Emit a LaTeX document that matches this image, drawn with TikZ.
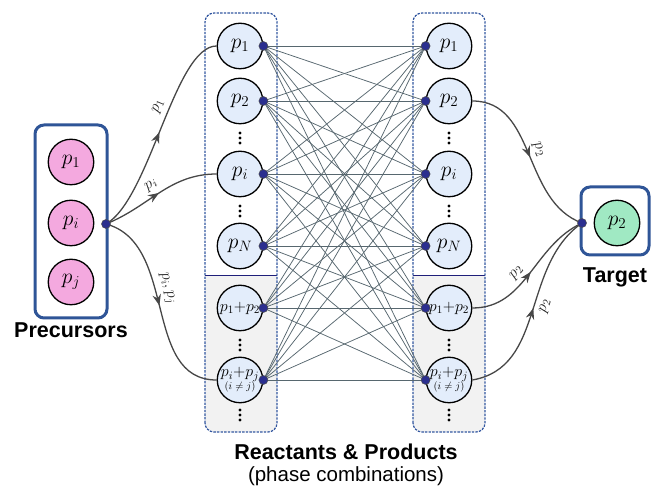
\RequirePackage{fix-cm}
\documentclass[tikz,border=0pt]{standalone}
\usepackage{fontspec}
\setsansfont{Liberation Sans}
\usetikzlibrary{arrows.meta,decorations.markings}

\definecolor{boxblue}{HTML}{2F5597}
\definecolor{dashblue}{HTML}{3357A0}
\definecolor{sepnavy}{HTML}{1F1F7A}
\definecolor{dotblue}{HTML}{2B2F8F}
\definecolor{phasefill}{HTML}{E3EDFB}
\definecolor{pinkfill}{HTML}{F4A9DF}
\definecolor{greenfill}{HTML}{A0E9C3}
\definecolor{lowerfill}{HTML}{F2F2F2}
\definecolor{meshcol}{HTML}{57676F}
\definecolor{flowcol}{HTML}{474747}

\tikzset{
  ball/.style={circle, draw=black, line width=1.3pt, minimum size=45.5pt, inner sep=0pt,
    font=\fontsize{21.5}{23}\selectfont},
  phase/.style={ball, fill=phasefill},
  combo/.style={ball, fill=phasefill, font=\fontsize{16}{17}\selectfont, align=center},
  precursor/.style={ball, fill=pinkfill},
  goal/.style={ball, fill=greenfill},
  port/.style={circle, fill=dotblue, draw=black!70, line width=0.5pt, minimum size=9pt, inner sep=0pt},
  mesh/.style={draw=meshcol, line width=0.75pt},
  flow/.style={draw=flowcol, line width=1.3pt,
    decoration={markings, mark=at position 0.5 with {\arrow[flowcol]{Stealth[length=11pt,width=8.5pt]}}},
    postaction={decorate}},
  elabel/.style={font=\fontsize{16}{17}\selectfont, text=black!85, inner sep=5pt},
  groupframe/.style={draw=boxblue, line width=3pt, rounded corners=9pt},
  colframe/.style={draw=dashblue, line width=1.2pt, dash pattern=on 2.4pt off 1.2pt, rounded corners=9pt},
  caption/.style={font=\sffamily\bfseries\fontsize{21.5}{24}\selectfont},
}

\newcommand{\stackdots}[2]{%
  \fill[black] (#1,#2+5) circle (1.7pt) (#1,#2) circle (1.7pt) (#1,#2-5) circle (1.7pt);}

\begin{document}
\begin{tikzpicture}[x=1pt,y=1pt]
\useasboundingbox (0,0) rectangle (652,489);

% phase columns: light grey lower half for combinations
\foreach \cx in {241,449} {
  \begin{scope}
    \clip[rounded corners=9pt] (\cx-36,57) rectangle (\cx+36,476);
    \fill[lowerfill] (\cx-36,57) rectangle (\cx+36,213);
  \end{scope}
  \draw[sepnavy, line width=1pt] (\cx-36,213) -- (\cx+36,213);
  \draw[colframe] (\cx-36,57) rectangle (\cx+36,476);
}

% reactant column (left) and product column (right)
\foreach \side/\cx in {L/240,R/449} {
  \node[phase] (\side1) at (\cx,443) {$p_1$};
  \node[phase] (\side2) at (\cx,388) {$p_2$};
  \node[phase] (\side i) at (\cx,315) {$p_i$};
  \node[phase] (\side N) at (\cx,243) {$p_N$};
  \node[combo] (\side12) at (\cx,181) {$p_1{+}p_2$};
  \node[combo] (\side ij) at (\cx,109) {$p_i{+}p_j$\\[-4pt]{\fontsize{10.5}{11}\selectfont$(i\neq j)$}};
  \stackdots{\cx}{351}
  \stackdots{\cx}{278}
  \stackdots{\cx}{144}
  \stackdots{\cx}{74}
}

% every reactant can turn into every product
\foreach \a in {1,2,i,N,12,ij} {
  \foreach \b in {1,2,i,N,12,ij} {
    \draw[mesh] (L\a.east) -- (R\b.west);
  }
}
\foreach \a in {1,2,i,N,12,ij} {
  \node[port] (oL\a) at (L\a.east) {};
  \node[port] (iR\a) at (R\a.west) {};
}

% precursors
\draw[groupframe] (35,171) rectangle (107,364);
\node[precursor] (P1) at (71,327) {$p_1$};
\node[precursor] (Pi) at (71,266) {$p_i$};
\node[precursor] (Pj) at (71,207) {$p_j$};
\node[caption] (prec) at (71,159) {Precursors};
\coordinate (src) at (106,265);

% target
\draw[groupframe] (581,234) rectangle (649,302);
\node[goal] (T2) at (617,266) {$p_2$};
\node[caption] (tgt) at (615,212) {Target};
\coordinate (snk) at (582,266);

% flows from precursors
\draw[flow] (src) .. controls +(44,25) and +(-42,0) .. node[elabel, sloped, above, pos=0.56] {$p_1$} (L1.west);
\draw[flow] (src) to[out=22,in=180] node[elabel, sloped, above, pos=0.47] {$p_i$} (Li.west);
\draw[flow] (src) to[out=-15,in=180] node[elabel, sloped, above, pos=0.42] {$p_i,p_j$} (Lij.west);

% flows into the target
\draw[flow] (R2.east) to[out=0,in=160] node[elabel, sloped, above, pos=0.5] {$p_2$} (snk);
\draw[flow] (R12.east) to[out=0,in=205] node[elabel, sloped, above, pos=0.45] {$p_2$} (snk);
\draw[flow] (Rij.east) to[out=10,in=215] node[elabel, sloped, below, pos=0.55] {$p_2$} (snk);

\node[port] (srcdot) at (src) {};
\node[port] (snkdot) at (snk) {};

% column caption
\node[caption] (rp) at (346,37) {Reactants \& Products};
\node[font=\sffamily\fontsize{20.5}{23}\selectfont] (pc) at (346,13) {(phase combinations)};
\end{tikzpicture}
\end{document}
